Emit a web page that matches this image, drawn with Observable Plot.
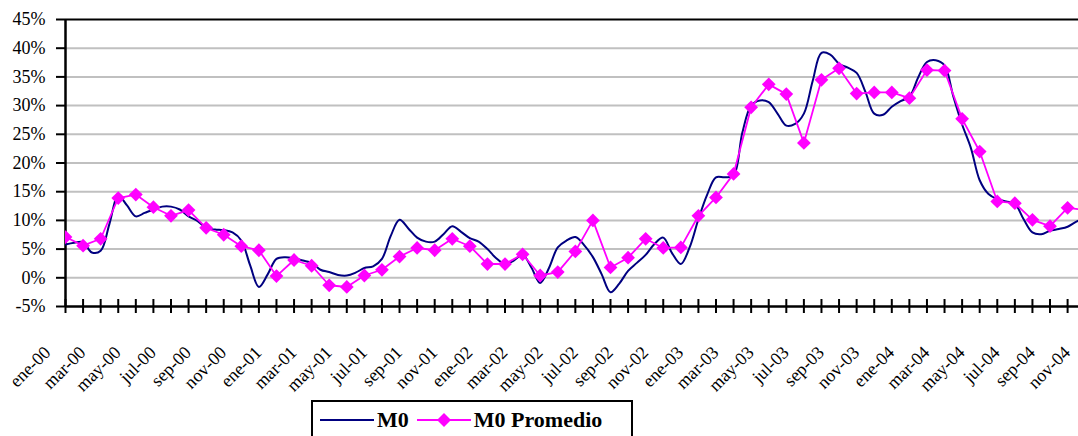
<!DOCTYPE html>
<html>
<head>
<meta charset="utf-8">
<script src="https://cdn.jsdelivr.net/npm/d3@7"></script>
<script src="https://cdn.jsdelivr.net/npm/@observablehq/plot@0.6"></script>
<style>
  html, body { margin: 0; padding: 0; background: #fff; }
  #wrap { position: relative; width: 1078px; height: 436px; overflow: hidden; background: #fff; }
  #chart svg, #chart svg text { font-family: "Liberation Serif", "Times New Roman", serif !important; }
  #legend {
    position: absolute; left: 311px; top: 400px; width: 322px; height: 44px;
    border: 2px solid #000; box-sizing: border-box; background: #fff;
    font-family: "Liberation Serif", "Times New Roman", serif; font-weight: bold; font-size: 22px;
    display: flex; align-items: flex-start; padding-top: 5px; padding-left: 7px; color: #000;
  }
  #legend .item { display: flex; align-items: center; margin-right: 8px; }
  #legend svg { display: block; margin-right: 3px; }
</style>
</head>
<body>
<div id="wrap">
  <div id="chart"></div>
  <div id="legend">
    <div class="item"><svg width="54" height="24"><line x1="0" y1="12" x2="54" y2="12" stroke="#000080" stroke-width="2"/></svg><span>M0</span></div>
    <div class="item"><svg width="54" height="24"><line x1="0" y1="12" x2="54" y2="12" stroke="#ff00ff" stroke-width="2"/><path d="M27,5 L34,12 L27,19 L20,12 Z" fill="#ff00ff"/></svg><span>M0 Promedio</span></div>
  </div>
</div>
<script>
// Monthly average ("M0 Promedio"), months from ene-00 (index 0)
const promedio = [7.1,5.6,6.8,13.9,14.5,12.3,10.8,11.8,8.7,7.5,5.5,4.8,
  0.3,3.1,2.1,-1.3,-1.6,0.4,1.4,3.7,5.2,4.8,6.8,5.5,
  2.4,2.4,4.1,0.4,1.0,4.6,10.0,1.8,3.5,6.8,5.2,5.3,
  10.8,14.0,18.1,29.7,33.7,32.0,23.5,34.5,36.5,32.1,32.3,32.3,
  31.3,36.2,36.1,27.7,22.0,13.3,13.0,10.1,9.0,12.2,11.8];

// M0, sampled every half month starting ene-00
const m0 = [5.8,6.1,6.2,4.4,4.7,9.4,14.3,12.6,10.7,11.3,11.9,12.4,12.4,11.9,10.7,9.9,8.7,8.4,8.3,7.9,
  6.5,2.2,-1.6,0.6,3.3,3.6,3.4,3.0,2.6,1.4,1.0,0.5,0.4,0.9,1.7,2.0,3.3,7.3,10.1,8.6,
  7.0,6.3,6.3,7.6,9.0,8.0,6.9,6.3,5.0,3.4,2.4,3.0,4.0,1.8,-0.9,1.7,5.3,6.5,7.1,5.7,
  3.6,0.6,-2.5,-1.0,1.2,2.6,4.0,5.9,7.0,4.3,2.4,5.3,10.2,14.5,17.5,17.5,17.8,25.3,30.0,30.9,
  30.6,28.6,26.5,26.8,28.6,34.3,39.2,38.9,37.3,36.6,35.7,32.4,28.6,28.4,29.8,30.8,31.5,34.9,37.6,37.9,
  37.0,31.6,26.7,22.6,17.0,14.6,13.7,13.3,12.9,10.2,7.9,7.6,8.2,8.5,8.9,9.8,10.3];

const xLabels = ["ene-00","mar-00","may-00","jul-00","sep-00","nov-00",
  "ene-01","mar-01","may-01","jul-01","sep-01","nov-01",
  "ene-02","mar-02","may-02","jul-02","sep-02","nov-02",
  "ene-03","mar-03","may-03","jul-03","sep-03","nov-03",
  "ene-04","mar-04","may-04","jul-04","sep-04","nov-04"];
const yTicks = [-5,0,5,10,15,20,25,30,35,40,45];

const promData = promedio.map((v, i) => ({x: i, y: v}));
const m0Data = m0.map((v, i) => ({x: i / 2, y: v}));
const monthTicks = d3.range(0, promedio.length);
const labelMonths = xLabels.map((_, i) => i * 2);
const labelMap = new Map(labelMonths.map((m, i) => [m, xLabels[i]]));
const serif = "Liberation Serif";

const chart = Plot.plot({
  width: 1078,
  height: 400,
  marginLeft: 65,
  marginRight: 0,
  marginTop: 19,
  marginBottom: 94,
  style: {fontFamily: serif, color: "#000", background: "#fff", overflow: "visible"},
  x: {domain: [0, 57.62]},
  y: {domain: [-5, 45]},
  marks: [
    Plot.gridY(yTicks.filter(d => d > -5 && d < 45), {stroke: "#c0c0c0", strokeOpacity: 1, strokeWidth: 2}),
    Plot.ruleY([45], {stroke: "#000", strokeWidth: 2}),
    Plot.ruleY([-5], {stroke: "#000", strokeWidth: 2.5}),
    Plot.ruleX([0], {stroke: "#000", strokeWidth: 2.5}),
    Plot.axisY(yTicks, {tickSize: 9, tickPadding: 11, strokeWidth: 2, fontSize: 18, fontFamily: serif, tickFormat: d => d + "%", label: null}),
    Plot.axisX(monthTicks, {tickSize: 14, dy: -7, strokeWidth: 2, tickFormat: () => "", label: null}),
    Plot.axisX(labelMonths, {tickSize: 0, tickPadding: 43, tickRotate: -45, dx: -18, fontSize: 18, fontFamily: serif, tickFormat: d => labelMap.get(d), label: null}),
    Plot.line(m0Data, {x: "x", y: "y", stroke: "#000080", strokeWidth: 2, curve: "catmull-rom", clip: true}),
    Plot.line(promData, {x: "x", y: "y", stroke: "#ff00ff", strokeWidth: 1.8, clip: true}),
    Plot.dot(promData, {x: "x", y: "y", symbol: "diamond2", r: 6.2, fill: "#ff00ff", stroke: "none", clip: true})
  ]
});
document.getElementById("chart").appendChild(chart);
</script>
</body>
</html>
